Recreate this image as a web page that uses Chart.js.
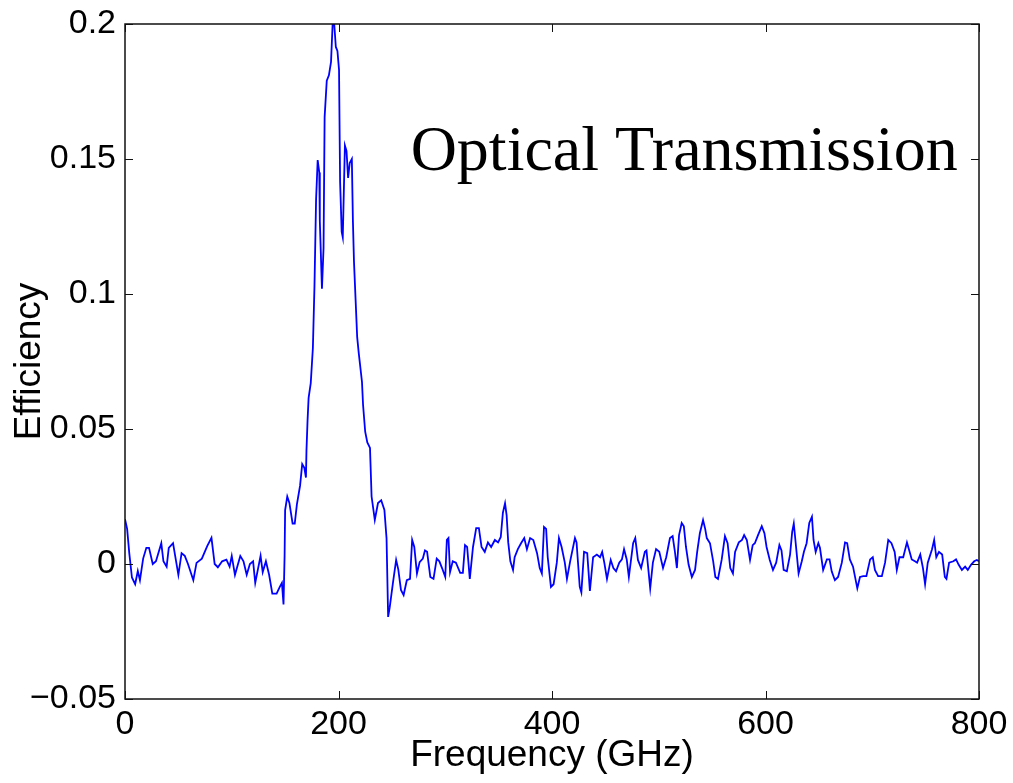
<!DOCTYPE html>
<html>
<head>
<meta charset="utf-8">
<script src="https://cdn.jsdelivr.net/npm/chart.js@4.4.1/dist/chart.umd.min.js"></script>
<style>
  html, body { margin: 0; padding: 0; background: #fff; }
  #wrap { width: 1013px; height: 783px; }
</style>
</head>
<body>
<div id="wrap"><canvas id="chart1" width="1013" height="783"></canvas></div>
<script>
// Frecuencia (GHz) y eficiencia
const freqGHz = [
  0, 2, 4, 6.5, 9.5, 12, 14, 17, 20, 22.5, 26, 29, 34, 36, 39, 41, 45, 47, 50, 53,
  56, 59, 64, 67, 72, 77, 81, 84, 87, 91, 95, 98, 100, 103, 108, 111, 114, 117, 120, 122,
  127, 129, 132, 135, 138, 142, 145, 147, 148.5, 149.5, 150, 152, 154, 157, 159, 161, 164, 166, 168, 169.5,
  170, 171, 172, 174, 176, 177.5, 179, 180.5, 182, 182.5, 184.5, 186, 187, 189, 191, 193, 194.5, 196, 197.5, 199,
  200.5, 201.5, 203, 204, 206, 207.5, 209, 210.5, 212.5, 213.5, 214.5, 216, 217.5, 219, 222, 223, 225, 227, 229.5, 231,
  234, 237, 240, 243, 245, 246.5, 248, 251, 254, 256, 258.5, 261, 264, 267, 269, 271, 273.5, 276, 279, 281,
  283, 286, 289, 292, 294.5, 297, 300, 301.5, 303, 304.5, 307, 310, 314, 316.5, 318.5, 320.5, 323, 326, 329, 331.5,
  334, 337, 340, 343, 346.5, 349.5, 352, 354, 356, 357.5, 359, 361, 363.5, 365, 368, 371, 374, 376.5, 379.5, 382.5,
  386, 388.5, 390.5, 392.5, 394.5, 396, 399, 401.5, 404.5, 406.5, 409, 412, 414, 417, 421.5, 423, 426, 427.5, 430, 433,
  435.5, 438.5, 442, 445, 447, 449, 451.5, 455, 457.5, 460, 463, 465.5, 467.5, 470, 472, 476, 478, 480.5, 483.5, 487,
  488.5, 492, 494.5, 497.5, 500.5, 504, 507, 510.5, 513, 515, 517, 519, 521.5, 523.5, 525.5, 528, 531, 534, 536, 538.5,
  541.5, 543.5, 545, 548, 551, 553, 555.5, 559, 562, 564.5, 567, 569.5, 571.5, 575, 578, 580, 582.5, 585.5, 588, 590,
  593, 596.5, 599, 601, 604, 607, 610, 613, 615, 617, 620, 623, 625, 626.5, 628, 631, 634, 636, 638.5, 641,
  643.5, 645, 647, 649.5, 651, 654, 657.5, 660, 662, 665, 668, 671.5, 674.5, 676.5, 679, 682, 686, 688.5, 691.5, 694.5,
  698, 700.5, 702.5, 705.5, 709, 712, 715, 718, 721, 723, 725.5, 729, 732.5, 735, 737, 740, 742, 745, 747.5, 749.5,
  752, 756, 758, 760, 762.5, 765.5, 768, 769.5, 772, 776, 778.5, 781, 784, 787, 789.5, 792.5, 795.5, 798, 800
];
const efficiency = [
  0.0166, 0.013, 0.004, -0.005, -0.0075, -0.0026, -0.006, 0.002, 0.006, 0.006, 0, 0.001, 0.0077, 0.001, -0.001, 0.006, 0.0077, 0.003, -0.004, 0.004,
  0.003, 0, -0.006, 0.0004, 0.002, 0.0066, 0.0097, 0, -0.0012, 0.001, 0.0016, -0.001, 0.003, -0.004, 0.003, 0.001, -0.004, 0, 0.001, -0.007,
  0.003, -0.003, 0.001, -0.004, -0.011, -0.011, -0.0085, -0.007, -0.015, 0.003, 0.02, 0.025, 0.0226, 0.015, 0.015, 0.022, 0.029, 0.037, 0.0356, 0.032,
  0.042, 0.053, 0.0615, 0.067, 0.08, 0.103, 0.135, 0.1496, 0.145, 0.127, 0.102, 0.117, 0.1655, 0.179, 0.181, 0.186, 0.2, 0.2, 0.1915, 0.19,
  0.183, 0.1415, 0.123, 0.121, 0.155, 0.153, 0.143, 0.1485, 0.15, 0.127, 0.112, 0.098, 0.084, 0.078, 0.0674, 0.059, 0.049, 0.045, 0.043, 0.025,
  0.0163, 0.0226, 0.0236, 0.02, 0.0096, -0.0196, -0.016, -0.007, 0.0015, -0.002, -0.0096, -0.0115, -0.006, -0.0055, 0.0089, 0.0063, -0.0035, 0.0007, 0.002, 0.005,
  0.0045, -0.0048, -0.0055, 0.002, 0.001, -0.0015, -0.0048, 0.0089, 0.0096, -0.003, 0.001, 0.0005, -0.0033, -0.0033, 0.007, 0.0063, -0.0055, 0.0063, 0.0133, 0.0133,
  0.0063, 0.0045, 0.008, 0.0063, 0.0089, 0.008, 0.01, 0.019, 0.0225, 0.018, 0.008, 0.001, -0.0022, 0.0025, 0.0055, 0.0077, 0.0096, 0.0055, 0.0096, 0.0089,
  0.004, -0.0015, -0.0035, 0.0137, 0.013, 0.0025, -0.0085, -0.0075, 0.0005, 0.0096, 0.0063, 0.0005, -0.0055, 0.001, 0.0096, 0.008, -0.0085, -0.0105, 0.0045, 0.004,
  -0.01, 0.0025, 0.0035, 0.0025, 0.0045, 0.0005, -0.0055, 0.0015, -0.0015, -0.0027, 0.0005, 0.0017, 0.0055, 0.0017, -0.0048, 0.0077, 0.0096, 0.0015, -0.0015, 0.0045,
  0.005, -0.009, 0.0005, 0.0055, 0.0045, -0.0015, 0.0025, 0.0096, 0.0103, 0.005, -0.0015, 0.0107, 0.0152, 0.014, 0.0063, -0.0003, -0.0048, -0.0022, 0.0045, 0.0114,
  0.0163, 0.013, 0.0096, 0.0077, 0.001, -0.0048, -0.0055, 0.0017, 0.0103, 0.0077, -0.0015, -0.0035, 0.0045, 0.008, 0.0089, 0.0107, 0.0089, 0.0015, 0.007, 0.0077,
  0.0107, 0.014, 0.0114, 0.0063, 0.0015, -0.0022, 0.0005, 0.007, 0.005, -0.0022, -0.0027, 0.0035, 0.0119, 0.015, 0.0089, -0.0035, 0.001, 0.0045, 0.0077, 0.0152,
  0.0175, 0.0089, 0.0045, 0.0077, 0.006, -0.0022, 0.0017, 0.0017, -0.0027, -0.006, -0.0048, 0.0005, 0.008, 0.0077, 0.0017, -0.001, -0.009, -0.0048, -0.0045, -0.0045,
  0.0017, 0.0025, -0.0022, -0.0045, -0.0045, 0.0005, 0.0089, 0.0077, 0.0045, -0.0022, 0.0025, 0.0025, 0.008, 0.0045, 0.0017, 0.001, 0.0005, 0.0035, -0.0015, -0.0075,
  0.0005, 0.0055, 0.0089, 0.0025, 0.0045, 0.0035, -0.0048, -0.0055, 0.0005, 0.001, 0.0017, -0.0003, -0.0022, -0.001, -0.0022, -0.0003, 0.001, 0.0015, 0.001
];

// Ticks de los ejes
const xTicks = [0, 200, 400, 600, 800];
const yTicks = [-0.05, 0, 0.05, 0.1, 0.15, 0.2];
const yTickLabels = ['\u22120.05', '0', '0.05', '0.1', '0.15', '0.2'];

// Texto dentro del grafico (en unidades de datos)
const noteText = 'Optical Transmission';
const noteFreq = 780;
const noteEff = 0.146;

const tickLen = 8;
const sansFont = '"Liberation Sans", Arial, sans-serif';

// Caja estilo MATLAB con ticks hacia adentro
const boxPlugin = {
  id: 'boxTicks',
  afterDatasetsDraw(chart) {
    const { ctx, chartArea: a } = chart;
    const x = chart.scales.x;
    const y = chart.scales.y;
    ctx.save();
    ctx.strokeStyle = '#111';
    ctx.lineWidth = 1.5;
    ctx.strokeRect(a.left, a.top, a.right - a.left, a.bottom - a.top);
    ctx.lineWidth = 1;
    ctx.beginPath();
    xTicks.forEach(v => {
      const px = Math.round(x.getPixelForValue(v)) + 0.5;
      ctx.moveTo(px, a.bottom); ctx.lineTo(px, a.bottom - tickLen);
      ctx.moveTo(px, a.top); ctx.lineTo(px, a.top + tickLen);
    });
    yTicks.forEach(v => {
      const py = Math.round(y.getPixelForValue(v)) + 0.5;
      ctx.moveTo(a.left, py); ctx.lineTo(a.left + tickLen, py);
      ctx.moveTo(a.right, py); ctx.lineTo(a.right - tickLen, py);
    });
    ctx.stroke();

    ctx.font = '64px "Liberation Serif", "Times New Roman", serif';
    ctx.fillStyle = '#000';
    ctx.textAlign = 'right';
    ctx.textBaseline = 'alphabetic';
    ctx.fillText(noteText, x.getPixelForValue(noteFreq), y.getPixelForValue(noteEff));
    ctx.restore();
  }
};

const points = freqGHz.map((f, i) => ({ x: f, y: efficiency[i] }));

const ctx = document.getElementById('chart1').getContext('2d');
new Chart(ctx, {
  type: 'line',
  data: {
    datasets: [{
      label: 'Efficiency',
      data: points,
      borderColor: 'rgb(0, 0, 255)',
      borderWidth: 1.8,
      pointRadius: 0,
      tension: 0,
      fill: false
    }]
  },
  options: {
    responsive: false,
    animation: false,
    devicePixelRatio: 1,
    layout: { padding: { left: 0, right: 34, top: 24, bottom: 0 } },
    plugins: {
      legend: { display: false },
      tooltip: { enabled: false }
    },
    scales: {
      x: {
        type: 'linear',
        min: 0,
        max: 800,
        afterBuildTicks: (scale) => { scale.ticks = xTicks.map(v => ({ value: v })); },
        afterFit: (scale) => { scale.height = 84; },
        grid: { display: false },
        border: { display: false },
        ticks: {
          color: '#000',
          padding: 1,
          maxRotation: 0,
          font: { family: sansFont, size: 34, lineHeight: 1 },
          callback: (v) => String(v)
        },
        title: {
          display: true,
          text: 'Frequency (GHz)',
          color: '#000',
          font: { family: sansFont, size: 37, lineHeight: 1 },
          padding: { top: 0, bottom: 9 }
        }
      },
      y: {
        type: 'linear',
        min: -0.05,
        max: 0.2,
        afterBuildTicks: (scale) => { scale.ticks = yTicks.map(v => ({ value: v })); },
        afterFit: (scale) => { scale.width = 125; },
        grid: { display: false },
        border: { display: false },
        ticks: {
          color: '#000',
          padding: 1,
          font: { family: sansFont, size: 34, lineHeight: 1 },
          callback: (v) => {
            const i = yTicks.findIndex(t => Math.abs(t - v) < 1e-9);
            return i >= 0 ? yTickLabels[i] : '';
          }
        },
        title: {
          display: true,
          text: 'Efficiency',
          color: '#000',
          font: { family: sansFont, size: 37, lineHeight: 1 },
          padding: { top: 11, bottom: 0 }
        }
      }
    }
  },
  plugins: [boxPlugin]
});
</script>
</body>
</html>
